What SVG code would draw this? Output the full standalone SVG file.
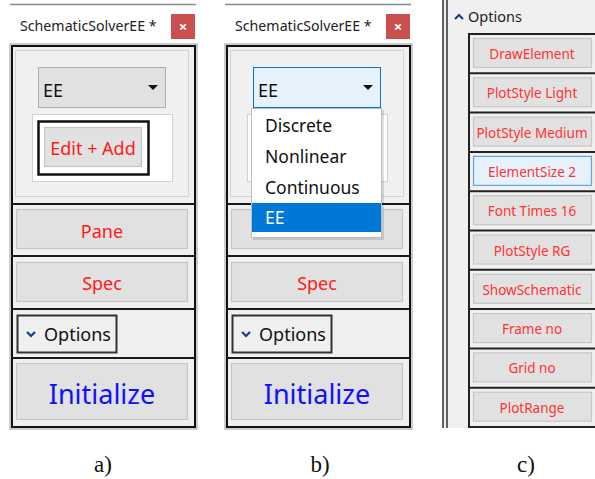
<svg xmlns="http://www.w3.org/2000/svg" width="595" height="479" viewBox="0 0 595 479">
<style>
.ui{font-family:"Noto Sans","Open Sans","DejaVu Sans",sans-serif}
.sec{fill:#F0F0F0}
.btn{fill:#E1E1E1;stroke:#C6C6C6;stroke-width:1.2}
.div{stroke:#1a1a1a;stroke-width:2}
.red{fill:#FF1A1A}
.title{font-size:14.2px;fill:#222}
.lbl{font-family:"Liberation Serif","Times New Roman",serif;font-size:23px;fill:#111}
.cbtn{fill:#E1E1E1;stroke:#C6C6C6;stroke-width:1.2}
.ctext{font-size:13.5px;fill:#FF3333}
.x{font-size:15px;font-weight:bold;fill:#fff}
</style>
<rect width="595" height="479" fill="#fff"/>

<!-- Panel a -->
<g id="panelA">
  <line x1="10" y1="4.5" x2="196" y2="4.5" stroke="#8a8a8a" stroke-width="1.5"/>
  <text class="ui title" x="20" y="31">SchematicSolverEE *</text>
  <rect x="171" y="14" width="24" height="25" fill="#C9504F"/>
  <text class="ui x" x="183" y="31.5" text-anchor="middle">×</text>
  <rect x="10" y="44" width="187" height="385" fill="none" stroke="#999" stroke-width="1"/>
  <rect x="12" y="46" width="183" height="381" class="sec" stroke="#111" stroke-width="2"/>
  <rect x="15.5" y="50.5" width="173" height="146" fill="#F0F0F0" stroke="#D4D4D4"/>
  <g id="a_dropdown">
    <rect x="38.5" y="67.5" width="127" height="40" fill="#E1E1E1" stroke="#ADADAD"/>
    <text class="ui" x="43" y="97" font-size="18" fill="#111">EE</text>
    <polygon points="148,85 158,85 153,90" fill="#111"/>
  </g>
  <g id="a_editadd">
    <rect x="32.5" y="114.5" width="140" height="67" fill="#fff" stroke="#D0D0D0"/>
    <rect x="38.5" y="121.5" width="110" height="53" fill="#fff" stroke="#111" stroke-width="2.5"/>
    <rect x="44.5" y="127.5" width="97" height="39" class="btn"/>
    <text class="ui red" x="93" y="155" font-size="18" text-anchor="middle">Edit + Add</text>
  </g>
  <g id="a_pane">
    <rect x="16.5" y="209.5" width="171" height="39" class="btn"/>
    <text class="ui red" x="102" y="238" font-size="18" text-anchor="middle">Pane</text>
  </g>
  <g id="a_spec">
    <rect x="16.5" y="262.5" width="171" height="39" class="btn"/>
    <text class="ui red" x="102" y="290" font-size="18" text-anchor="middle">Spec</text>
  </g>
  <g id="a_options">
    <rect x="17.5" y="315.5" width="99" height="37" fill="#F0F0F0" stroke="#333" stroke-width="2"/>
    <polyline points="27,332 31,336 35,332" fill="none" stroke="#1A3A8A" stroke-width="2.2"/>
    <text class="ui" x="44" y="341" font-size="18" fill="#111">Options</text>
  </g>
  <g id="a_init">
    <rect x="16.5" y="363.5" width="171" height="56" class="btn"/>
    <text class="ui" x="102" y="404" font-size="27" fill="#1010FF" text-anchor="middle">Initialize</text>
  </g>
  <line class="div" x1="12" y1="204" x2="195" y2="204"/>
  <line class="div" x1="12" y1="256" x2="195" y2="256"/>
  <line class="div" x1="12" y1="309" x2="195" y2="309"/>
  <line class="div" x1="12" y1="358" x2="195" y2="358"/>
</g>

<!-- Panel b -->
<g id="panelB">
  <line x1="225" y1="4.5" x2="411" y2="4.5" stroke="#8a8a8a" stroke-width="1.5"/>
  <text class="ui title" x="235" y="31">SchematicSolverEE *</text>
  <rect x="386" y="14" width="24" height="25" fill="#C9504F"/>
  <text class="ui x" x="398" y="31.5" text-anchor="middle">×</text>
  <rect x="225" y="44" width="187" height="385" fill="none" stroke="#999" stroke-width="1"/>
  <rect x="227" y="46" width="183" height="381" class="sec" stroke="#111" stroke-width="2"/>
  <rect x="230.5" y="50.5" width="173" height="146" fill="#F0F0F0" stroke="#D4D4D4"/>
  <g id="b_dropdown">
    <rect x="253.5" y="67.5" width="127" height="40" fill="#E5F1FB" stroke="#0078D7"/>
    <text class="ui" x="258" y="97" font-size="18" fill="#111">EE</text>
    <polygon points="363,85 373,85 368,90" fill="#111"/>
  </g>
  <rect x="247.5" y="114.5" width="140" height="67" fill="#fff" stroke="#D0D0D0"/>
  <rect x="231.5" y="209.5" width="171" height="39" class="btn"/>
  <g id="b_spec">
    <rect x="231.5" y="262.5" width="171" height="39" class="btn"/>
    <text class="ui red" x="317" y="290" font-size="18" text-anchor="middle">Spec</text>
  </g>
  <g id="b_options">
    <rect x="232.5" y="315.5" width="99" height="37" fill="#F0F0F0" stroke="#333" stroke-width="2"/>
    <polyline points="242,332 246,336 250,332" fill="none" stroke="#1A3A8A" stroke-width="2.2"/>
    <text class="ui" x="259" y="341" font-size="18" fill="#111">Options</text>
  </g>
  <g id="b_init">
    <rect x="231.5" y="363.5" width="171" height="56" class="btn"/>
    <text class="ui" x="317" y="404" font-size="27" fill="#1010FF" text-anchor="middle">Initialize</text>
  </g>
  <line class="div" x1="227" y1="204" x2="410" y2="204"/>
  <line class="div" x1="227" y1="256" x2="410" y2="256"/>
  <line class="div" x1="227" y1="309" x2="410" y2="309"/>
  <line class="div" x1="227" y1="358" x2="410" y2="358"/>
  <g id="b_menu">
    <rect x="253" y="110" width="131" height="130" fill="#000" opacity="0.12"/>
    <rect x="251.5" y="108.5" width="130" height="129" fill="#fff" stroke="#BDBDBD"/>
    <text class="ui" x="265" y="132" font-size="17.5" fill="#111">Discrete</text>
    <text class="ui" x="265" y="163" font-size="17.5" fill="#111">Nonlinear</text>
    <text class="ui" x="265" y="194" font-size="17.5" fill="#111">Continuous</text>
    <rect x="252" y="203" width="129" height="29" fill="#0078D7"/>
    <text class="ui" x="265" y="224" font-size="17.5" fill="#fff">EE</text>
  </g>
</g>

<!-- Panel c -->
<g id="panelC">
  <rect x="442" y="0" width="153" height="428" fill="#F0F0F0"/>
  <line x1="443" y1="0" x2="443" y2="428" stroke="#333" stroke-width="1.5"/>
  <line x1="447" y1="0" x2="447" y2="428" stroke="#333" stroke-width="1.5"/>
  <polyline points="455,19 459,15 463,19" fill="none" stroke="#1A3A8A" stroke-width="2"/>
  <text class="ui" x="468" y="22" font-size="14.5" fill="#222">Options</text>
  <line x1="469" y1="33" x2="469" y2="428" stroke="#222" stroke-width="2"/>
  <g id="c_b1"><rect class="cbtn" x="473.5" y="38.5" width="118" height="29"/><text class="ui ctext" x="532" y="59" text-anchor="middle">DrawElement</text></g>
  <g id="c_b2"><rect class="cbtn" x="473.5" y="77.8" width="118" height="29"/><text class="ui ctext" x="532" y="98.3" text-anchor="middle">PlotStyle Light</text></g>
  <g id="c_b3"><rect class="cbtn" x="473.5" y="117.1" width="118" height="29"/><text class="ui ctext" x="532" y="137.6" text-anchor="middle">PlotStyle Medium</text></g>
  <g id="c_b4"><rect x="473.5" y="156.4" width="118" height="29" fill="#E5F1FB" stroke="#5EA6E0" stroke-width="1.2"/><text class="ui ctext" x="532" y="176.9" text-anchor="middle">ElementSize 2</text></g>
  <g id="c_b5"><rect class="cbtn" x="473.5" y="195.7" width="118" height="29"/><text class="ui ctext" x="532" y="216.2" text-anchor="middle">Font Times 16</text></g>
  <g id="c_b6"><rect class="cbtn" x="473.5" y="235" width="118" height="29"/><text class="ui ctext" x="532" y="255.5" text-anchor="middle">PlotStyle RG</text></g>
  <g id="c_b7"><rect class="cbtn" x="473.5" y="274.3" width="118" height="29"/><text class="ui ctext" x="532" y="294.8" text-anchor="middle">ShowSchematic</text></g>
  <g id="c_b8"><rect class="cbtn" x="473.5" y="313.6" width="118" height="29"/><text class="ui ctext" x="532" y="334.1" text-anchor="middle">Frame no</text></g>
  <g id="c_b9"><rect class="cbtn" x="473.5" y="352.9" width="118" height="29"/><text class="ui ctext" x="532" y="373.4" text-anchor="middle">Grid no</text></g>
  <g id="c_b10"><rect class="cbtn" x="473.5" y="392.2" width="118" height="29"/><text class="ui ctext" x="532" y="412.7" text-anchor="middle">PlotRange</text></g>
  <g stroke="#222" stroke-width="2">
    <line x1="469" y1="34" x2="595" y2="34"/>
    <line x1="469" y1="73.3" x2="595" y2="73.3"/>
    <line x1="469" y1="112.6" x2="595" y2="112.6"/>
    <line x1="469" y1="151.9" x2="595" y2="151.9"/>
    <line x1="469" y1="191.2" x2="595" y2="191.2"/>
    <line x1="469" y1="230.5" x2="595" y2="230.5"/>
    <line x1="469" y1="269.8" x2="595" y2="269.8"/>
    <line x1="469" y1="309.1" x2="595" y2="309.1"/>
    <line x1="469" y1="348.4" x2="595" y2="348.4"/>
    <line x1="469" y1="387.7" x2="595" y2="387.7"/>
    <line x1="469" y1="427" x2="595" y2="427"/>
  </g>
</g>

<g id="captions">
  <text class="lbl" x="103" y="472" text-anchor="middle">a)</text>
  <text class="lbl" x="320" y="472" text-anchor="middle">b)</text>
  <text class="lbl" x="526" y="472" text-anchor="middle">c)</text>
</g>
</svg>
